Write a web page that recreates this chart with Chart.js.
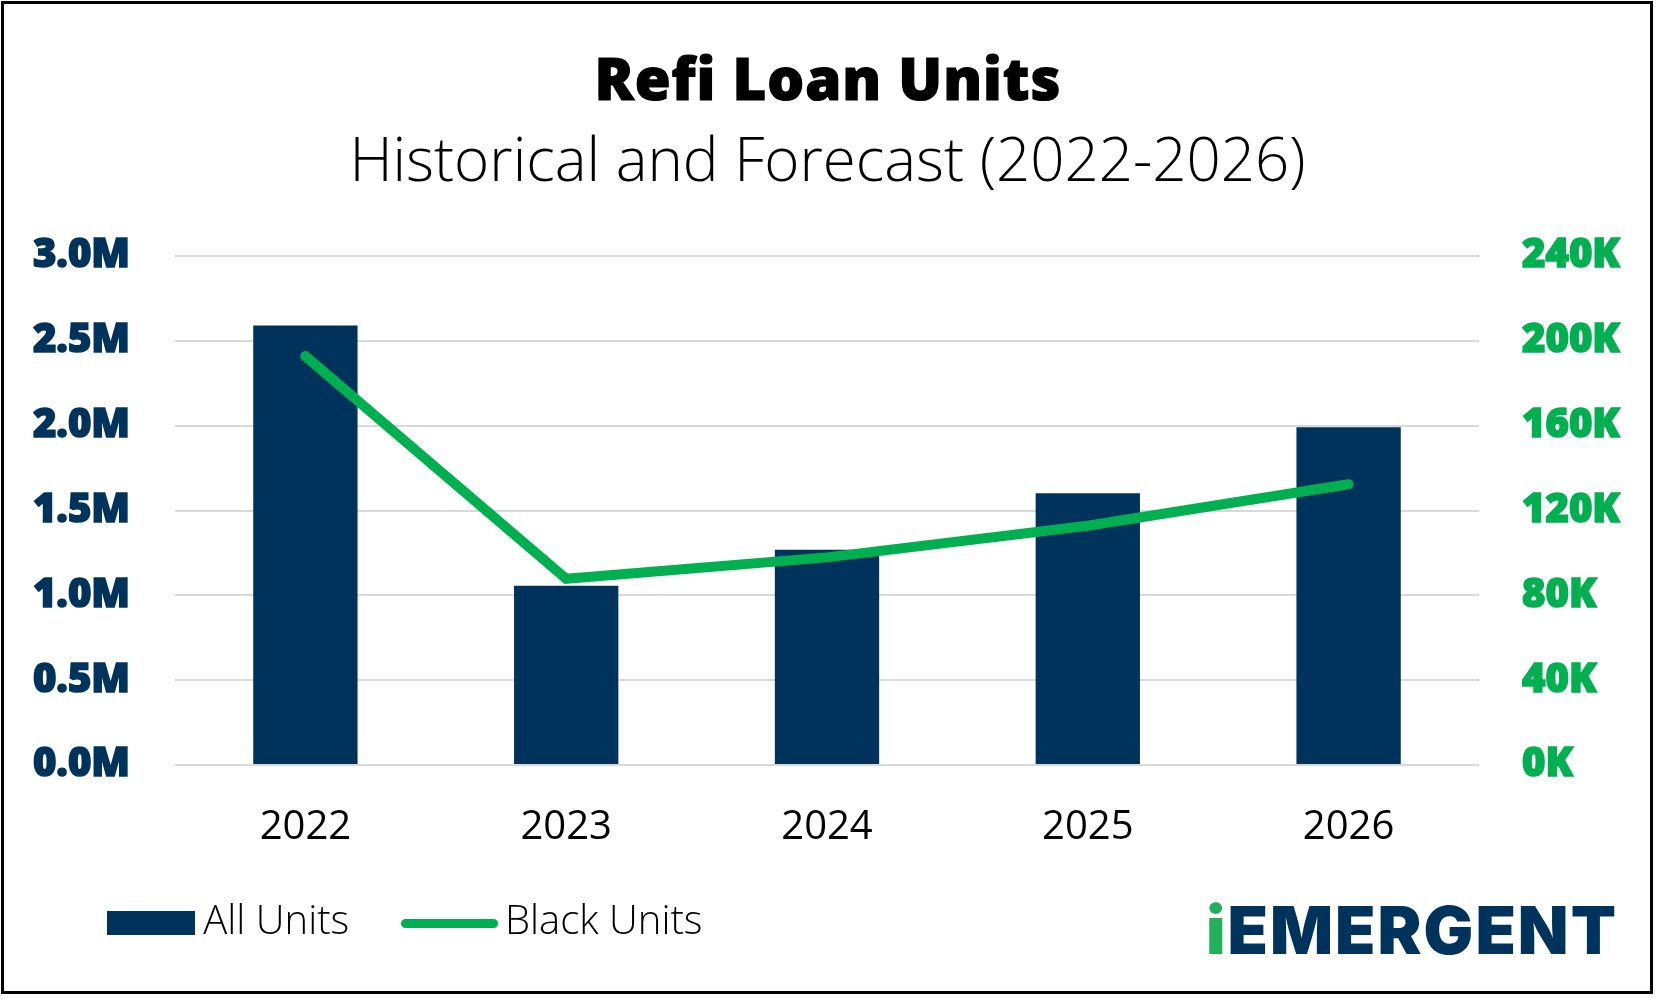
<!DOCTYPE html>
<html>
<head>
<meta charset="utf-8">
<title>Refi Loan Units</title>
<script src="https://cdn.jsdelivr.net/npm/chart.js@4.4.1/dist/chart.umd.min.js"></script>
<style>
  html, body { margin: 0; padding: 0; background: #fff; }
  body { width: 1659px; height: 999px; position: relative; overflow: hidden; font-family: "Open Sans", sans-serif; }
  #frame { position: absolute; left: 1px; top: 1px; width: 1652px; height: 993px; box-sizing: border-box; border: 3px solid #000; }
  #chart { position: absolute; left: 0; top: 0; }
  .title { position: absolute; left: 0; width: 1656px; text-align: center; line-height: 1; white-space: nowrap; color: #000; }
  #title { top: 49px; font-size: 58px; font-weight: 800; letter-spacing: 1px; -webkit-text-stroke: 1.2px #000; }
  #subtitle { top: 128px; font-size: 60px; font-weight: 300; width: 1655px; }
  .legend-text { position: absolute; top: 899px; font-size: 40px; font-weight: 300; line-height: 1; white-space: nowrap; color: #000; }
  .swatch { position: absolute; }
  #logo { position: absolute; left: 1206px; top: 897px; font-family: Inter, "Open Sans", sans-serif; font-size: 66px; font-weight: 900; line-height: 1; color: #00335B; letter-spacing: 2px; white-space: nowrap; }
  #logo .i { color: #22B05A; }
</style>
</head>
<body>
<div id="frame"></div>
<div class="title" id="title">Refi Loan Units</div>
<div class="title" id="subtitle">Historical and Forecast (2022-2026)</div>
<canvas id="chart" width="1659" height="999"></canvas>
<div id="legend"></div>
<div id="logo"><span class="i">i</span>EMERGENT</div>

<script>
// data
var years = ["2022", "2023", "2024", "2025", "2026"];
var allUnits = [2590000, 1057000, 1269000, 1601000, 1990000];
var blackUnits = [192800, 87800, 97900, 112800, 132400];

var leftTicks = { min: 0, max: 3000000, step: 500000 };
var rightTicks = { min: 0, max: 240000, step: 40000 };

var navy = "#00335B";
var green = "#00B050";

var chart = new Chart("chart", {
  type: "bar",
  data: {
    labels: years,
    datasets: [{
      label: "All Units",
      data: allUnits,
      backgroundColor: navy,
      yAxisID: "y",
      order: 1,
      categoryPercentage: 1,
      barPercentage: 0.4
    }, {
      type: "line",
      label: "Black Units",
      data: blackUnits,
      borderColor: green,
      backgroundColor: green,
      borderWidth: 10,
      borderCapStyle: "round",
      borderJoinStyle: "miter",
      pointRadius: 0,
      tension: 0,
      yAxisID: "y1",
      order: 0
    }]
  },
  options: {
    responsive: false,
    animation: false,
    layout: { padding: { top: 256, bottom: 108, left: 0, right: 0 } },
    plugins: {
      legend: { display: false },
      tooltip: { enabled: false }
    },
    scales: {
      x: {
        grid: { display: false, drawTicks: false },
        border: { display: false },
        ticks: {
          padding: 39,
          color: "#000",
          font: { family: "'Open Sans'", size: 40, weight: 400 }
        }
      },
      y: {
        position: "left",
        min: leftTicks.min,
        max: leftTicks.max,
        afterFit: function (s) { s.width = 175; },
        grid: { color: "#D9D9D9", lineWidth: 2, drawTicks: false },
        border: { display: false },
        ticks: {
          stepSize: leftTicks.step,
          padding: 45,
          color: navy,
          textStrokeColor: navy,
          textStrokeWidth: 1.6,
          font: { family: "'Open Sans'", size: 40, weight: 800 },
          callback: function (v) { return (v / 1000000).toFixed(1) + "M"; }
        }
      },
      y1: {
        position: "right",
        min: rightTicks.min,
        max: rightTicks.max,
        afterFit: function (s) { s.width = 180; },
        grid: { display: false, drawTicks: false },
        border: { display: false },
        ticks: {
          stepSize: rightTicks.step,
          padding: 43,
          color: green,
          textStrokeColor: green,
          textStrokeWidth: 1.6,
          font: { family: "'Open Sans'", size: 40, weight: 800 },
          callback: function (v) { return (v / 1000) + "K"; }
        }
      }
    }
  }
});

// html legend built from the chart's datasets
function buildLegend() {
  var legend = document.getElementById("legend");
  var spots = [
    { box: [106.7, 910.7, 88, 24, 0], text: 203.3 },
    { box: [400.7, 918.7, 97.6, 9.7, 5], text: 505 }
  ];
  chart.data.datasets.forEach(function (ds, i) {
    var s = spots[i];
    var sw = document.createElement("div");
    sw.className = "swatch";
    sw.style.left = s.box[0] + "px";
    sw.style.top = s.box[1] + "px";
    sw.style.width = s.box[2] + "px";
    sw.style.height = s.box[3] + "px";
    sw.style.borderRadius = s.box[4] + "px";
    sw.style.background = ds.type === "line" ? ds.borderColor : ds.backgroundColor;
    legend.appendChild(sw);
    var t = document.createElement("div");
    t.className = "legend-text";
    t.style.left = s.text + "px";
    t.innerText = ds.label;
    legend.appendChild(t);
  });
}
buildLegend();
</script>
</body>
</html>
